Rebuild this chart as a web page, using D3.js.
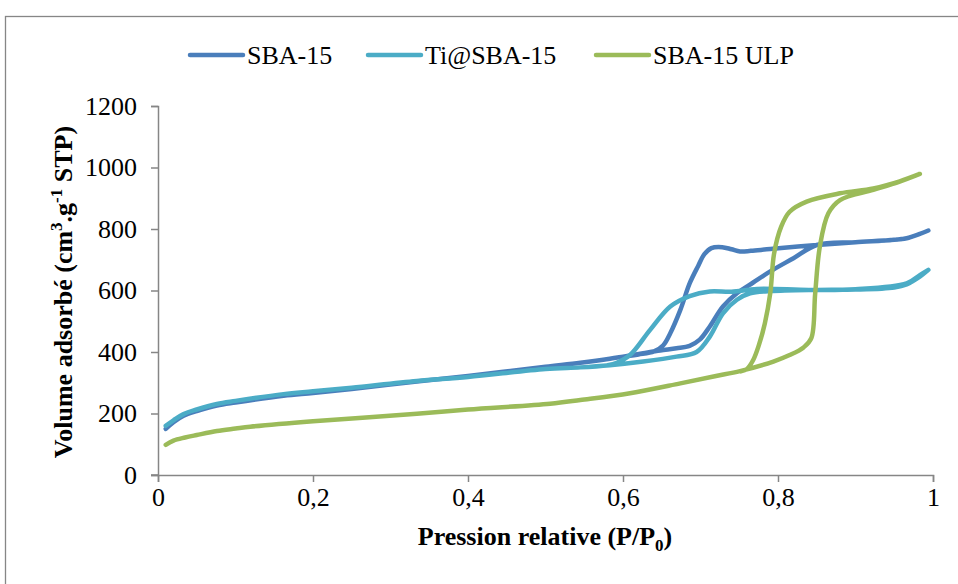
<!DOCTYPE html>
<html>
<head>
<meta charset="utf-8">
<script src="https://cdn.jsdelivr.net/npm/d3@7"></script>
<style>
  body { margin: 0; background: #fff; }
  svg text { font-family: "Liberation Serif", "Times New Roman", Times, serif !important; fill: #000; }
</style>
</head>
<body>
<svg id="chart" width="958" height="584"></svg>
<script>
// series names + colours (legend order)
var seriesNames = ["SBA-15", "Ti@SBA-15", "SBA-15 ULP"];
var seriesColors = ["#4a7ebb", "#4bacc6", "#9bbb59"];

// tick labels
var xTicks = [0, 0.2, 0.4, 0.6, 0.8, 1];
var yTicks = [0, 200, 400, 600, 800, 1000, 1200];

// [P/P0, volume], adsorption then desorption branch
var sbaAds = [[0.01,150],[0.02,172],[0.033,193],[0.05,208],[0.076,226],[0.1,236],[0.162,258],[0.2,267],
  [0.25,280],[0.334,304],[0.4,322],[0.5,352],[0.545,365],[0.583,378],[0.6,385],[0.626,396],[0.648,405],
  [0.669,412],[0.686,420],[0.699,440],[0.712,483],[0.729,548],[0.747,591],[0.768,626],[0.79,662],
  [0.82,705],[0.85,748],[0.9,757],[0.95,765],[0.966,770],[0.983,784],[0.994,795]];
var sbaDes = [[0.994,795],[0.983,784],[0.966,770],[0.9,757],[0.85,748],[0.79,735],[0.765,729],[0.751,727],
  [0.74,734],[0.728,741],[0.714,738],[0.705,718],[0.697,680],[0.686,623],[0.674,537],[0.661,461],
  [0.652,422],[0.64,402],[0.62,392],[0.6,385]];

var tiAds = [[0.01,160],[0.02,178],[0.033,198],[0.05,213],[0.076,231],[0.1,241],[0.162,263],[0.2,272],
  [0.25,284],[0.334,306],[0.4,319],[0.5,345],[0.545,350],[0.583,357],[0.626,369],[0.669,385],[0.695,400],
  [0.712,450],[0.729,526],[0.747,570],[0.764,591],[0.79,598],[0.85,602],[0.9,603],[0.95,610],
  [0.966,620],[0.983,645],[0.994,667]];
var tiDes = [[0.994,667],[0.983,650],[0.966,623],[0.9,604],[0.84,602],[0.773,605],[0.74,596],
  [0.712,597],[0.686,582],[0.661,548],[0.635,472],[0.609,390],[0.592,365],[0.58,357]];

var ulpAds = [[0.01,98],[0.02,112],[0.035,122],[0.05,130],[0.076,143],[0.1,151],[0.119,157],[0.2,175],
  [0.334,199],[0.4,213],[0.506,232],[0.545,244],[0.609,266],[0.674,298],[0.72,322],[0.751,338],
  [0.794,369],[0.815,390],[0.833,415],[0.843,445],[0.848,591],[0.854,743],[0.865,851],[0.88,894],
  [0.923,927],[0.957,954],[0.983,979]];
var ulpDes = [[0.983,979],[0.957,955],[0.923,932],[0.88,916],[0.837,889],[0.815,856],[0.804,807],
  [0.795,721],[0.79,591],[0.783,493],[0.775,420],[0.768,374],[0.76,345],[0.752,337]];

var seriesData = [sbaAds.concat(sbaDes), tiAds.concat(tiDes), ulpAds.concat(ulpDes)];

var svg = d3.select("#chart");
var fs = 26;
var serif = "'Liberation Serif', 'Times New Roman', serif";

// outer chart border
svg.append("rect")
  .attr("x", 5.5).attr("y", 16.5)
  .attr("width", 1000).attr("height", 1000)
  .attr("fill", "none").attr("stroke", "#868686").attr("stroke-width", 1.3);

var x = d3.scaleLinear().domain([0, 1]).range([158, 933]);
var y = d3.scaleLinear().domain([0, 1200]).range([475, 106]);

// y axis
var yAxis = svg.append("g")
  .attr("transform", "translate(158,0)")
  .call(d3.axisLeft(y).tickValues(yTicks).tickSize(7).tickPadding(14).tickFormat(d3.format("d")));
// x axis
var xAxis = svg.append("g")
  .attr("transform", "translate(0,475)")
  .call(d3.axisBottom(x).tickValues(xTicks).tickSize(7).tickPadding(6)
    .tickFormat(function(d) { return d === 0 || d === 1 ? d : String(d).replace(".", ","); }));

[xAxis, yAxis].forEach(function(g) {
  g.attr("font-family", serif).attr("font-size", fs);
  g.select(".domain").attr("stroke", "#868686").attr("stroke-width", 1.5);
  g.selectAll(".tick line").attr("stroke", "#868686").attr("stroke-width", 1.5);
  g.selectAll(".tick text").attr("fill", "#000");
});
// extend x axis line left to meet the y tick at 0
svg.append("line").attr("x1", 151).attr("x2", 158).attr("y1", 475).attr("y2", 475)
  .attr("stroke", "#868686").attr("stroke-width", 1.5);

// lines
var line = d3.line()
  .x(function(d) { return x(d[0]); })
  .y(function(d) { return y(d[1]); })
  .curve(d3.curveCatmullRom.alpha(0.5));

svg.selectAll(".series")
  .data(seriesData)
  .enter().append("path")
  .attr("class", "series")
  .attr("d", line)
  .attr("fill", "none")
  .attr("stroke", function(d, i) { return seriesColors[i]; })
  .attr("stroke-width", 4.5)
  .attr("stroke-linecap", "round")
  .attr("stroke-linejoin", "round");

// legend
var legendX = [190, 368, 596];
var legend = svg.selectAll(".legend")
  .data(seriesNames)
  .enter().append("g")
  .attr("class", "legend")
  .attr("transform", function(d, i) { return "translate(" + legendX[i] + ",55)"; });
legend.append("line")
  .attr("x1", 0).attr("x2", 53).attr("y1", 0).attr("y2", 0)
  .attr("stroke", function(d, i) { return seriesColors[i]; })
  .attr("stroke-width", 4.5).attr("stroke-linecap", "round");
legend.append("text")
  .attr("x", 57).attr("y", 9)
  .attr("font-family", serif)
  .attr("font-size", fs)
  .text(function(d) { return d; });

// x title
var xt = svg.append("text")
  .attr("x", 545).attr("y", 545)
  .attr("text-anchor", "middle")
  .attr("font-family", serif)
  .attr("font-size", fs).attr("font-weight", "bold");
xt.append("tspan").text("Pression relative (P/P");
xt.append("tspan").attr("dy", 6).attr("font-size", 17).text("0");
xt.append("tspan").attr("dy", -6).text(")");

// y title
var yt = svg.append("text")
  .attr("transform", "translate(72,292) rotate(-90)")
  .attr("text-anchor", "middle")
  .attr("font-family", serif)
  .attr("font-size", fs).attr("font-weight", "bold");
yt.append("tspan").text("Volume adsorbé (cm");
yt.append("tspan").attr("dy", -10).attr("font-size", 17).text("3");
yt.append("tspan").attr("dy", 10).text(".g");
yt.append("tspan").attr("dy", -10).attr("font-size", 17).text("-1");
yt.append("tspan").attr("dy", 10).text(" STP)");
</script>
</body>
</html>
